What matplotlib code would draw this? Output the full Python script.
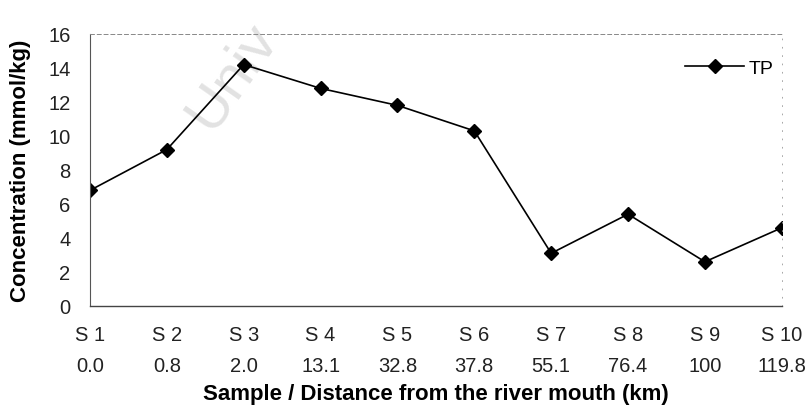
import matplotlib
matplotlib.use('Agg')
import matplotlib.pyplot as plt

plt.rcParams['font.family'] = ['Liberation Sans', 'DejaVu Sans']

samples = ['S 1', 'S 2', 'S 3', 'S 4', 'S 5', 'S 6', 'S 7', 'S 8', 'S 9', 'S 10']
distance = ['0.0', '0.8', '2.0', '13.1', '32.8', '37.8', '55.1', '76.4', '100', '119.8']
tp = [6.8, 9.2, 14.2, 12.8, 11.8, 10.3, 3.1, 5.4, 2.6, 4.6]
yticks = [0, 2, 4, 6, 8, 10, 12, 14, 16]

fig = plt.figure(figsize=(8.12, 4.14), dpi=100)
ax = fig.add_axes([0.1108, 0.2585, 0.852, 0.657])
ax.set_facecolor('none')

# faint watermark behind the plot
fig.text(0.26, 0.68, 'Univ', rotation=55, fontsize=42,
         color='#e2e2e2', ha='left', va='baseline', rotation_mode='anchor', zorder=-1)

x = list(range(len(samples)))
ax.plot(x, tp, color='black', lw=1.2, marker='D', ms=7.5, label='TP')

ax.set_xlim(0, len(samples) - 1)
ax.set_ylim(0, 16)
ax.set_yticks(yticks)
ax.set_xticks(x)
ax.set_xticklabels([s + '\n' + d for s, d in zip(samples, distance)], linespacing=1.75)
ax.tick_params(axis='both', length=0, labelsize=14.5, colors='#222222')
ax.tick_params(axis='y', pad=14)
ax.tick_params(axis='x', pad=14)

ax.spines['left'].set_color('#555555')
ax.spines['left'].set_linewidth(0.8)
ax.spines['bottom'].set_color('#444444')
ax.spines['bottom'].set_linewidth(1.0)
ax.spines['top'].set_color('#888888')
ax.spines['top'].set_linewidth(0.7)
ax.spines['top'].set_linestyle((0, (4, 3)))
ax.spines['right'].set_color('#999999')
ax.spines['right'].set_linewidth(0.6)
ax.spines['right'].set_linestyle((0, (1, 9)))

ax.set_ylabel('Concentration (mmol/kg)', fontsize=16, fontweight='bold', labelpad=12)
ax.set_xlabel('Sample / Distance from the river mouth (km)', fontsize=16,
              fontweight='bold', labelpad=6)

ax.legend(loc='center right', bbox_to_anchor=(0.988, 0.875), frameon=False,
          fontsize=14, handlelength=3.0, handletextpad=0.25, borderpad=0,
          borderaxespad=0)

fig.savefig('out.png', dpi=100)
